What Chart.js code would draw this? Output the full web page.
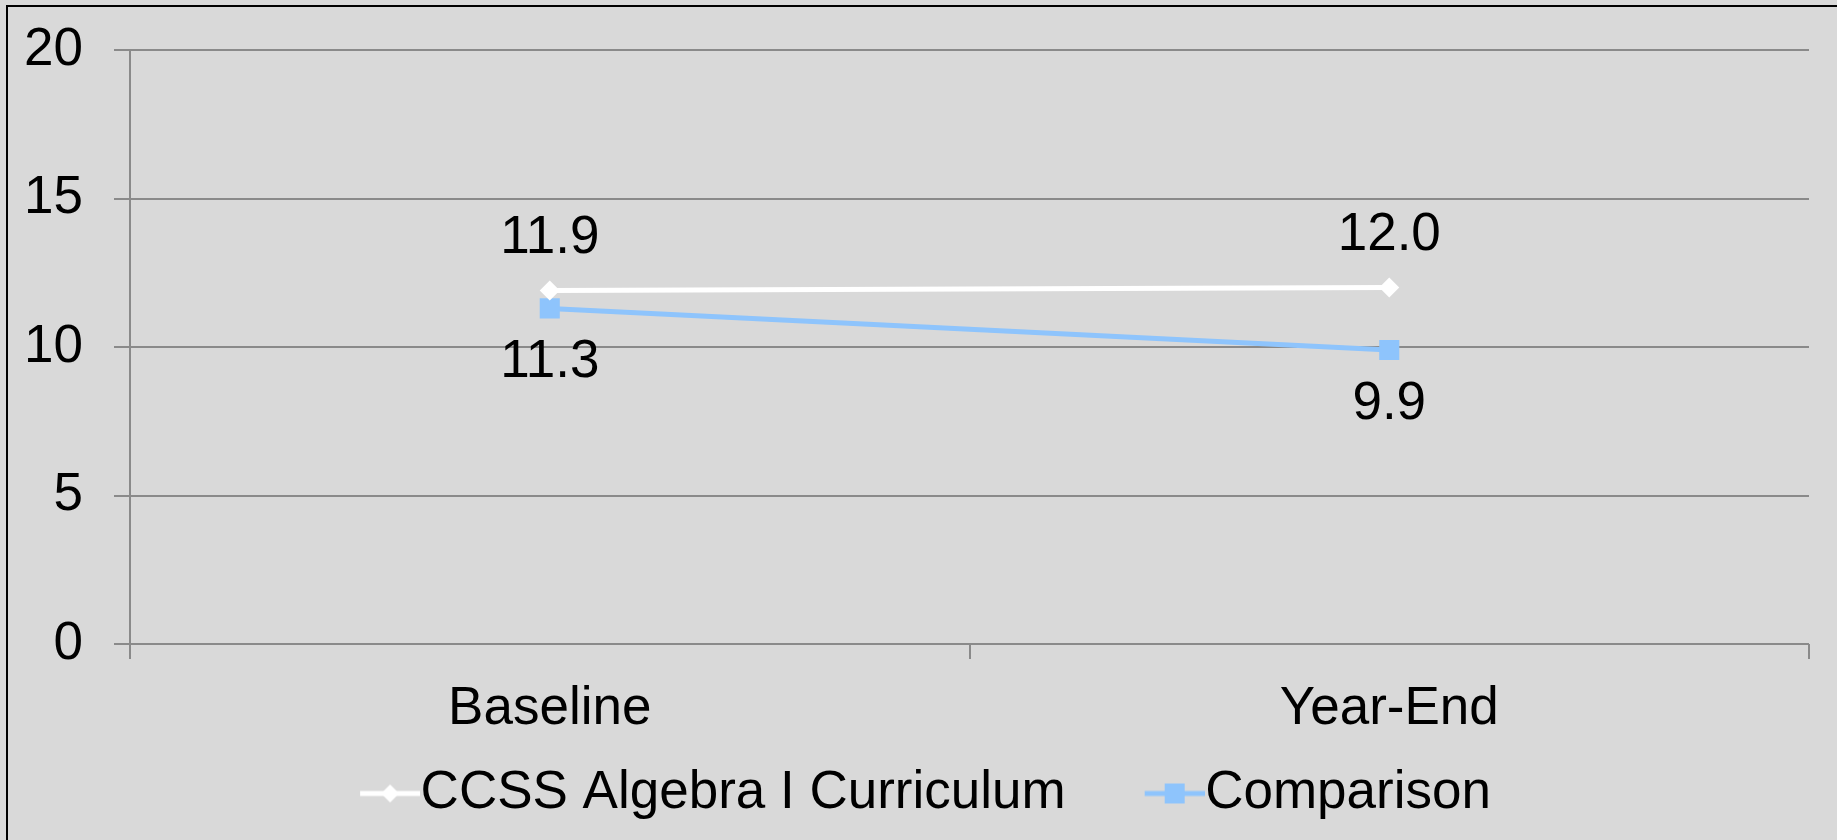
<!DOCTYPE html>
<html>
<head>
<meta charset="utf-8">
<script src="https://cdn.jsdelivr.net/npm/chart.js@4"></script>
<style>
  html, body { margin: 0; padding: 0; background: #d9d9d9; overflow: hidden; }
  #frame { position: absolute; left: 6px; top: 5px; width: 1900px; height: 900px; border: 2px solid #000; }
  #chart { position: absolute; left: 0; top: 0; }
</style>
</head>
<body>
<div id="frame"></div>
<canvas id="chart" width="1837" height="840"></canvas>
<script>
// data
const categories = ["Baseline", "Year-End"];
const ccssValues = [11.9, 12.0];
const comparisonValues = [11.3, 9.9];
const yTicks = [0, 5, 10, 15, 20];
const seriesNames = ["CCSS Algebra I Curriculum", "Comparison"];

const fontFamily = "'Liberation Sans', Arial, sans-serif";
const whiteColor = "#ffffff";
const blueColor = "#8ec4fc";
const gridColor = "#8a8a8a";

// legend marker: line with the point in the middle, drawn in the right 60px
const markerW = 128;
function legendMarker(color, shape) {
  const c = document.createElement("canvas");
  c.width = markerW;
  c.height = 24;
  const ctx = c.getContext("2d");
  const x0 = markerW - 60;
  ctx.strokeStyle = color;
  ctx.lineWidth = 5;
  ctx.beginPath();
  ctx.moveTo(x0, 12);
  ctx.lineTo(markerW, 12);
  ctx.stroke();
  ctx.fillStyle = color;
  if (shape == "diamond") {
    ctx.beginPath();
    ctx.moveTo(x0 + 30, 3);
    ctx.lineTo(x0 + 39, 12);
    ctx.lineTo(x0 + 30, 21);
    ctx.lineTo(x0 + 21, 12);
    ctx.closePath();
    ctx.fill();
  } else {
    ctx.fillRect(x0 + 20, 2, 20, 20);
  }
  return c;
}

// value labels above / below the points
const valueLabels = {
  id: "valueLabels",
  afterDatasetsDraw(chart) {
    const ctx = chart.ctx;
    ctx.save();
    ctx.font = "53px " + fontFamily;
    ctx.fillStyle = "#000";
    ctx.textAlign = "center";
    ctx.textBaseline = "middle";
    chart.data.datasets.forEach((ds, i) => {
      const meta = chart.getDatasetMeta(i);
      meta.data.forEach((pt, j) => {
        const dy = i == 0 ? -52 : 54;
        ctx.fillText(ds.data[j].toFixed(1), pt.x, pt.y + dy);
      });
    });
    ctx.restore();
  },
};

const data = {
  labels: categories,
  datasets: [
    {
      label: seriesNames[0],
      data: ccssValues,
      borderColor: whiteColor,
      backgroundColor: whiteColor,
      borderWidth: 5,
      pointStyle: "rectRot",
      pointRadius: 10,
      pointBorderWidth: 0,
      legendMarker: legendMarker(whiteColor, "diamond"),
    },
    {
      label: seriesNames[1],
      data: comparisonValues,
      borderColor: blueColor,
      backgroundColor: blueColor,
      borderWidth: 5,
      pointStyle: "rect",
      pointRadius: 14.2,
      pointBorderWidth: 0,
      legendMarker: legendMarker(blueColor, "square"),
    },
  ],
};

const config = {
  type: "line",
  data,
  plugins: [valueLabels],
  options: {
    responsive: false,
    animation: false,
    layout: { padding: { top: 50, left: 0, right: 28, bottom: 10 } },
    plugins: {
      tooltip: { enabled: false },
      legend: {
        position: "bottom",
        labels: {
          usePointStyle: true,
          pointStyleWidth: 76,
          padding: 37,
          color: "#000",
          font: { family: fontFamily, size: 53 },
          generateLabels(chart) {
            return chart.data.datasets.map((ds, i) => ({
              text: ds.label,
              pointStyle: ds.legendMarker,
              fillStyle: ds.backgroundColor,
              strokeStyle: ds.borderColor,
              lineWidth: 0,
              hidden: false,
              datasetIndex: i,
            }));
          },
        },
      },
    },
    scales: {
      x: {
        offset: true,
        afterFit(scale) {
          scale.height = 86;
        },
        grid: {
          offset: true,
          drawOnChartArea: false,
          drawTicks: true,
          tickLength: 15,
          color: gridColor,
          lineWidth: 2,
        },
        border: { display: false },
        ticks: {
          color: "#000",
          padding: 19,
          font: { family: fontFamily, size: 53 },
        },
      },
      y: {
        min: 0,
        max: 20,
        afterFit(scale) {
          scale.width = 130;
        },
        afterBuildTicks(scale) {
          scale.ticks = yTicks.map((v) => ({ value: v }));
        },
        grid: {
          color: gridColor,
          lineWidth: 2,
          tickLength: 16,
        },
        border: { display: true, color: gridColor, width: 2 },
        ticks: {
          color: "#000",
          padding: 31,
          font: { family: fontFamily, size: 53, lineHeight: 0.6 },
        },
      },
    },
  },
};

new Chart(document.getElementById("chart"), config);
</script>
</body>
</html>
